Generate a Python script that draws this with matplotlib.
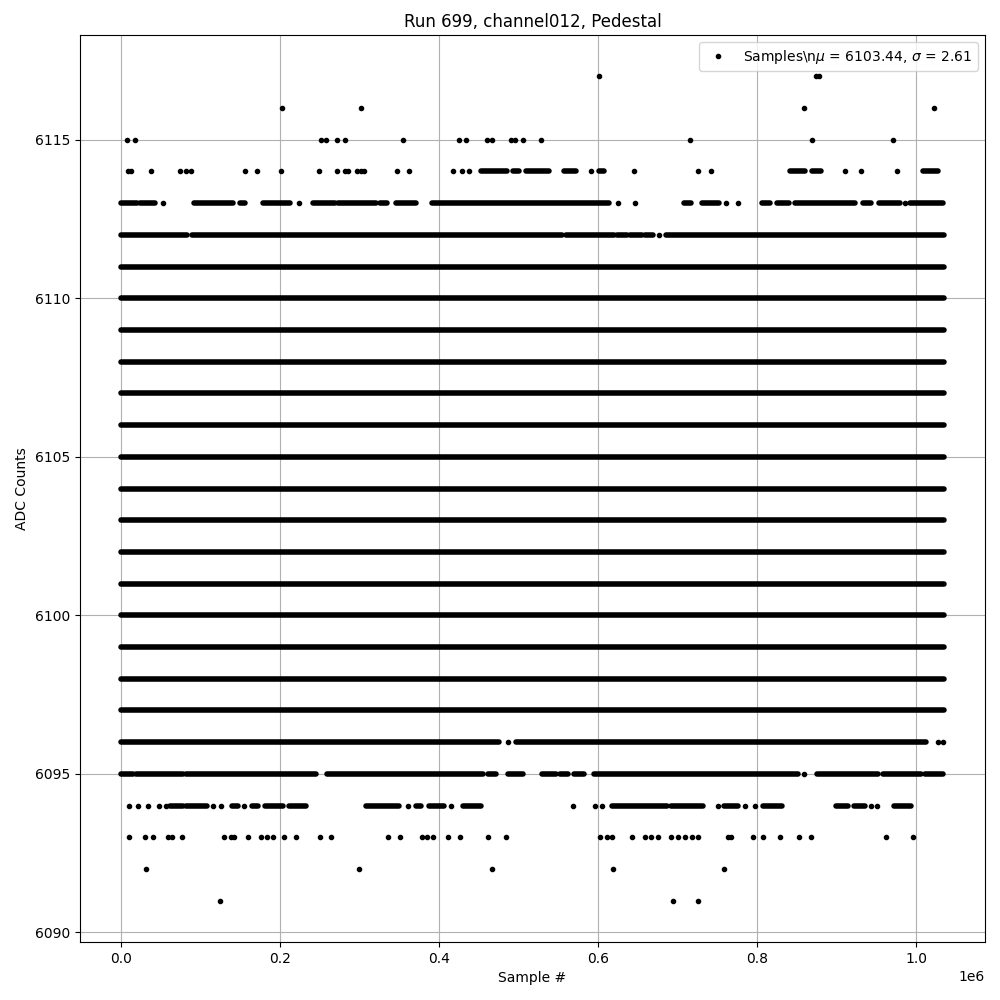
import numpy as np
import matplotlib.pyplot as plt

# sample positions are read in units of 1e6 samples
SCALE = 1e6
last_sample = 1.035

# ADC levels where samples fill the whole run
full_levels = list(range(6097, 6112))

# dense stretches of samples on the partly filled levels (start, end)
runs_6112 = [(0.0, 0.083), (0.089, 0.555), (0.56, 0.62), (0.624, 0.636), (0.64, 0.655),
             (0.659, 0.669), (0.685, 1.035)]
runs_6113 = [(0.0, 0.0197), (0.024, 0.043), (0.092, 0.141), (0.149, 0.156), (0.1786, 0.212),
             (0.241, 0.2685), (0.2727, 0.32), (0.326, 0.335), (0.346, 0.371), (0.391, 0.614),
             (0.7085, 0.7173), (0.7306, 0.7516), (0.806, 0.816), (0.825, 0.84), (0.848, 0.923),
             (0.9335, 0.943), (0.954, 0.9795), (0.993, 1.034)]
runs_6114 = [(0.453, 0.486), (0.493, 0.5), (0.509, 0.538), (0.557, 0.572), (0.601, 0.607),
             (0.8415, 0.86), (0.8695, 0.881), (1.009, 1.027)]
runs_6096 = [(0.0, 0.4755), (0.4965, 1.0125)]
runs_6095 = [(0.0, 0.0154), (0.0188, 0.078), (0.0816, 0.2455), (0.259, 0.4546), (0.461, 0.472),
             (0.487, 0.5056), (0.53, 0.547), (0.552, 0.562), (0.57, 0.582), (0.5947, 0.852),
             (0.875, 0.952), (0.9586, 1.0067), (1.011, 1.034)]
runs_6094 = [(0.0615, 0.078), (0.0816, 0.1075), (0.139, 0.147), (0.164, 0.172), (0.1807, 0.2036),
             (0.211, 0.232), (0.308, 0.35), (0.371, 0.377), (0.387, 0.4065), (0.4295, 0.4526),
             (0.617, 0.6867), (0.692, 0.7315), (0.759, 0.7758), (0.807, 0.831), (0.899, 0.914),
             (0.922, 0.9356), (0.9724, 0.9933)]

# isolated samples
points_6117 = [0.6014, 0.8745, 0.8775]
points_6116 = [0.2024, 0.3016, 0.8586, 1.023]
points_6115 = [0.0079, 0.018, 0.251, 0.258, 0.272, 0.281, 0.355, 0.4245, 0.4337, 0.46, 0.467,
               0.491, 0.496, 0.506, 0.5286, 0.7156, 0.8687, 0.9715]
points_6114 = [0.009, 0.0125, 0.037, 0.074, 0.081, 0.088, 0.156, 0.171, 0.201, 0.249, 0.271,
               0.281, 0.286, 0.297, 0.302, 0.306, 0.347, 0.362, 0.418, 0.429, 0.437, 0.5906,
               0.6458, 0.7256, 0.7419, 0.91, 0.931, 0.9766]
points_6113 = [0.053, 0.2237, 0.625, 0.646, 0.7607, 0.7758, 0.9858]
points_6112 = [0.6765]
points_6096 = [0.487, 1.0276, 1.034]
points_6095 = [0.8595]
points_6094 = [0.0105, 0.0217, 0.034, 0.048, 0.0565, 0.115, 0.126, 0.1547, 0.3605, 0.415,
               0.5688, 0.596, 0.6044, 0.7507, 0.785, 0.798, 0.943, 0.951]
points_6093 = [0.0105, 0.03, 0.0405, 0.0594, 0.0636, 0.077, 0.1297, 0.138, 0.142, 0.1598,
               0.1765, 0.183, 0.191, 0.205, 0.2204, 0.2497, 0.2635, 0.3354, 0.351, 0.379,
               0.385, 0.392, 0.4107, 0.4266, 0.461, 0.4847, 0.602, 0.6115, 0.6177, 0.6428,
               0.6587, 0.667, 0.675, 0.692, 0.7005, 0.7098, 0.718, 0.7256, 0.7633, 0.7675,
               0.7955, 0.808, 0.829, 0.8523, 0.8674, 0.9628, 0.9966]
points_6092 = [0.0318, 0.299, 0.467, 0.619, 0.7582]
points_6091 = [0.1246, 0.6943, 0.7256]

mean_adc = 6103.44
sigma_adc = 2.61

runs = {6112: runs_6112, 6113: runs_6113, 6114: runs_6114,
        6096: runs_6096, 6095: runs_6095, 6094: runs_6094}
for lvl in full_levels:
    runs[lvl] = [(0.0, last_sample)]
points = {6117: points_6117, 6116: points_6116, 6115: points_6115, 6114: points_6114,
          6113: points_6113, 6112: points_6112, 6096: points_6096, 6095: points_6095,
          6094: points_6094, 6093: points_6093, 6092: points_6092, 6091: points_6091}

fig, ax = plt.subplots(figsize=(10, 10), dpi=100)
fig.subplots_adjust(left=0.08, right=0.985, bottom=0.058, top=0.965)

# dense runs of overlapping samples drawn as thick round-capped strokes
for lvl, segs in runs.items():
    x0 = np.array([s[0] for s in segs]) * SCALE
    x1 = np.array([s[1] for s in segs]) * SCALE
    ax.hlines(np.full(len(segs), lvl), x0, x1, colors='k', linewidth=4.0, capstyle='round')

px = np.concatenate([np.array(v) * SCALE for v in points.values()])
py = np.concatenate([np.full(len(v), k) for k, v in points.items()])
ax.plot(px, py, 'k.', linestyle='none',
        label=r'Samples\n$\mu$ = %.2f, $\sigma$ = %.2f' % (mean_adc, sigma_adc))

ax.set_title('Run 699, channel012, Pedestal')
ax.set_xlabel('Sample #')
ax.set_ylabel('ADC Counts')
ax.grid(True)
ax.legend(loc='upper right')

fig.savefig('out.png')
